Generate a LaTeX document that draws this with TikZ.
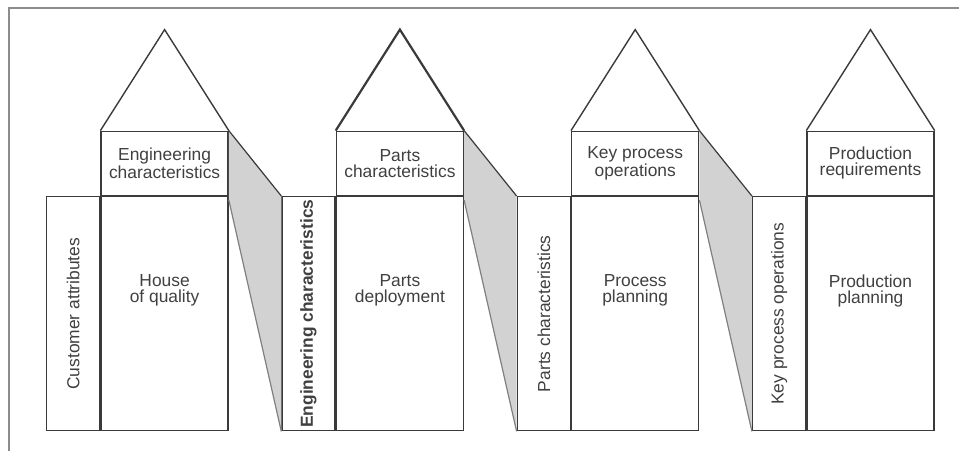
\documentclass[tikz,border=0pt]{standalone}
\usepackage{fontspec}
\setmainfont{Liberation Sans}
\usetikzlibrary{positioning,calc}
\definecolor{lineg}{HTML}{3A3A3A}
\definecolor{textg}{HTML}{404040}
\definecolor{shadeg}{HTML}{D2D2D2}
\definecolor{frameg}{HTML}{8C8C8C}

\begin{document}
\begin{tikzpicture}[x=0.5pt,y=-0.5pt,
  every node/.style={font=\fontsize{8.7}{8}\selectfont, text=textg},
  box/.style={draw=lineg, rectangle, inner sep=0pt, line width=0.7pt},
  sidebox/.style={box, minimum width=26.5pt, minimum height=117pt},
  mainbox/.style={box, minimum width=63.5pt, minimum height=117pt},
  headbox/.style={box, minimum width=63.5pt, minimum height=32pt, align=center},
  txt/.style={align=center, inner sep=0pt},
  roof/.style={draw=lineg, line width=0.7pt, line join=miter},
  ]
  \useasboundingbox (0,0) rectangle (959,451);
  % frame
  \draw[frameg, line width=1pt] (9,451) -- (9,8) -- (959,8);

  % the four houses
  \foreach \i/\side/\head/\main in {
      0/{Customer attributes}/{Engineering\\characteristics}/{House\\of quality},
      1/{\bfseries Engineering characteristics}/{Parts\\characteristics}/{Parts\\deployment},
      2/{Parts characteristics}/{Key process\\operations}/{Process\\planning},
      3/{Key process operations}/{Production\\requirements}/{Production\\planning}}{
    \node[sidebox, anchor=north west] (side\i) at ({46+235.3*\i},196) {};
    \node[mainbox, anchor=south west] (main\i) at (side\i.south east) {};
    \node[headbox, anchor=south west] (head\i) at (main\i.north west) {\head};
    \coordinate (apex\i) at ([yshift=50.5pt]head\i.north);
    \node[txt, rotate=90] (stxt\i) at (side\i.center) {\side};
    \node[txt] (mtxt\i) at ([yshift=11.5pt]main\i.center) {\main};
  }

  % roofs
  \foreach \i in {0,2,3}{
  \draw[roof] (head\i.north west) -- (apex\i) -- (head\i.north east);
  }
  \draw[roof, line width=1.1pt] (head1.north west) -- (apex1) -- (head1.north east);

  % shaded links between houses
  \foreach \i [evaluate=\i as \j using int(\i+1)] in {0,1,2}{
  \fill[shadeg] (head\i.north east) -- (side\j.north west) -- (side\j.south west)
    -- ([yshift=-2pt]main\i.north east) -- cycle;
  \draw[lineg, line width=0.6pt] (head\i.north east) -- (side\j.north west);
  \draw[gray, line width=0.6pt] ([yshift=-2pt]main\i.north east) -- (side\j.south west);
  }
\end{tikzpicture}
\end{document}
